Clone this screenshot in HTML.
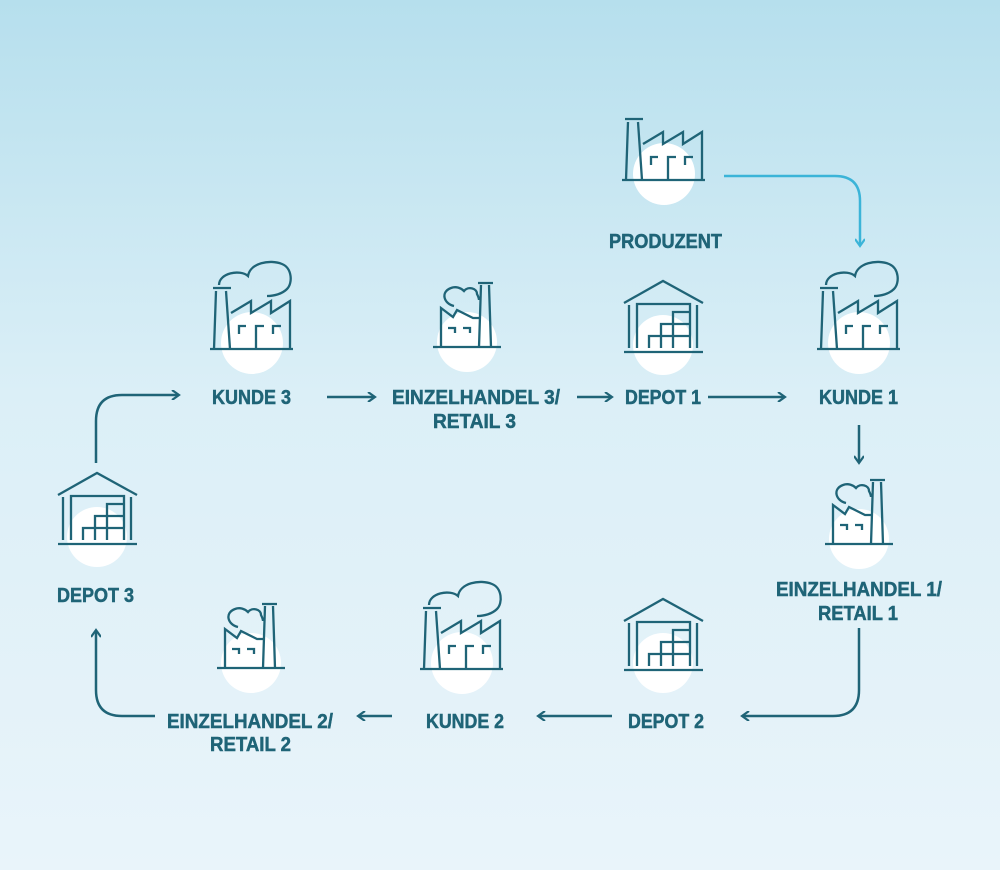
<!DOCTYPE html>
<html><head><meta charset="utf-8"><style>
html,body{margin:0;padding:0;width:1000px;height:870px;overflow:hidden}
svg{display:block}
text{font-family:"Liberation Sans",sans-serif;font-weight:bold;font-size:20px;fill:#1f6477;stroke:#1f6477;stroke-width:0.5}
</style></head><body>
<svg width="1000" height="870" viewBox="0 0 1000 870" xmlns="http://www.w3.org/2000/svg">
<defs>
<linearGradient id="bg" x1="0" y1="0" x2="0" y2="1">
<stop offset="0" stop-color="#b6dfed"/>
<stop offset="0.45" stop-color="#dbeff7"/>
<stop offset="1" stop-color="#e9f4fa"/>
</linearGradient>
<g id="fac">
<circle cx="42" cy="-6" r="31" fill="#fff"/>
<g fill="none" stroke="#1f6477" stroke-width="2.3">
<path d="M0,0H83"/>
<path d="M3,-61H21M6,-58L4,0M16,-58L20,0"/>
<path d="M21,-36L41,-48V-36L61,-48V-36L80,-48V0"/>
<path d="M29,-15V-23H36M46,0V-23H54M63,-15V-23H71"/>
</g></g>
<path id="cloud" d="M9,-64C9,-76 30,-80 38,-73C40,-86 60,-90 72,-85C82,-81 83,-66 77,-60C72,-55 64,-53 57,-53" fill="none" stroke="#1f6477" stroke-width="2.3"/>
<g id="small">
<circle cx="34" cy="-5" r="30" fill="#fff"/>
<g fill="none" stroke="#1f6477" stroke-width="2.3">
<path d="M0,0H68"/>
<path d="M45,-64H60M48,-62L46,0M56,-62L58,0"/>
<path d="M8,0V-39L20,-30L24,-37L40,-29H46"/>
<path d="M15,-19H22V-14M30,-19H37V-14"/>
<path d="M21,-41C11,-43 7,-55 18,-59C23,-61 28,-59 31,-56C35,-61 44,-59 44,-53C45,-51 46,-49 46,-47"/>
</g></g>
<g id="dep">
<circle cx="39" cy="-7" r="30" fill="#fff"/>
<g fill="none" stroke="#1f6477" stroke-width="2.3">
<path d="M0,0H79"/>
<path d="M0,-49L39,-71L79,-49"/>
<path d="M5,-47V-4M73,-47V-4"/>
<path d="M13,-4V-48H66V-4"/>
<path d="M25,-4V-16H66M37,-4V-28H66M49,-4V-40H66"/>
</g></g>
<marker id="ah" viewBox="0 0 10 10" refX="8" refY="5" markerWidth="10" markerHeight="10" markerUnits="userSpaceOnUse" orient="auto">
<path d="M1,0L8,5L1,10" fill="none" stroke="#1f6477" stroke-width="2.2"/>
</marker>
<marker id="ahb" viewBox="0 0 10 10" refX="8" refY="5" markerWidth="10" markerHeight="10" markerUnits="userSpaceOnUse" orient="auto">
<path d="M1,0L8,5L1,10" fill="none" stroke="#3bb4d8" stroke-width="2.2"/>
</marker>
</defs>
<rect width="1000" height="870" fill="url(#bg)"/>

<use href="#fac" transform="translate(622,180)"/>
<use href="#fac" transform="translate(817,349)"/><use href="#cloud" transform="translate(817,349)"/>
<use href="#fac" transform="translate(210,349)"/><use href="#cloud" transform="translate(210,349)"/>
<use href="#fac" transform="translate(420,669)"/><use href="#cloud" transform="translate(420,669)"/>
<use href="#small" transform="translate(433,347)"/>
<use href="#small" transform="translate(825,544)"/>
<use href="#small" transform="translate(217,668)"/>
<use href="#dep" transform="translate(624,352)"/>
<use href="#dep" transform="translate(624,670)"/>
<use href="#dep" transform="translate(58,544)"/>

<g fill="none" stroke="#1f6477" stroke-width="2.5">
<path d="M327,397H375" marker-end="url(#ah)"/>
<path d="M577,397H612" marker-end="url(#ah)"/>
<path d="M708,397H785" marker-end="url(#ah)"/>
<path d="M859,425V463" marker-end="url(#ah)"/>
<path d="M859,628V690Q859,716 833,716H742" marker-end="url(#ah)"/>
<path d="M612,716H538" marker-end="url(#ah)"/>
<path d="M392,716H358" marker-end="url(#ah)"/>
<path d="M155,716H122Q96,716 96,690V630" marker-end="url(#ah)"/>
<path d="M96,463V421Q96,395 122,395H179" marker-end="url(#ah)"/>
</g>
<path d="M724,176H835Q860,176 860,201V246" fill="none" stroke="#3bb4d8" stroke-width="2.5" marker-end="url(#ahb)"/>

<text x="609" y="248" textLength="113" lengthAdjust="spacingAndGlyphs">PRODUZENT</text>
<text x="212" y="404" textLength="79" lengthAdjust="spacingAndGlyphs">KUNDE 3</text>
<text x="392" y="404" textLength="168" lengthAdjust="spacingAndGlyphs">EINZELHANDEL 3/</text>
<text x="433" y="428" textLength="83" lengthAdjust="spacingAndGlyphs">RETAIL 3</text>
<text x="625" y="404" textLength="76" lengthAdjust="spacingAndGlyphs">DEPOT 1</text>
<text x="819" y="404" textLength="79" lengthAdjust="spacingAndGlyphs">KUNDE 1</text>
<text x="776" y="596" textLength="166" lengthAdjust="spacingAndGlyphs">EINZELHANDEL 1/</text>
<text x="818" y="620" textLength="80" lengthAdjust="spacingAndGlyphs">RETAIL 1</text>
<text x="57" y="602" textLength="77" lengthAdjust="spacingAndGlyphs">DEPOT 3</text>
<text x="628" y="728" textLength="76" lengthAdjust="spacingAndGlyphs">DEPOT 2</text>
<text x="426" y="728" textLength="78" lengthAdjust="spacingAndGlyphs">KUNDE 2</text>
<text x="167" y="728" textLength="166" lengthAdjust="spacingAndGlyphs">EINZELHANDEL 2/</text>
<text x="210" y="751" textLength="81" lengthAdjust="spacingAndGlyphs">RETAIL 2</text>
</svg>
</body></html>
